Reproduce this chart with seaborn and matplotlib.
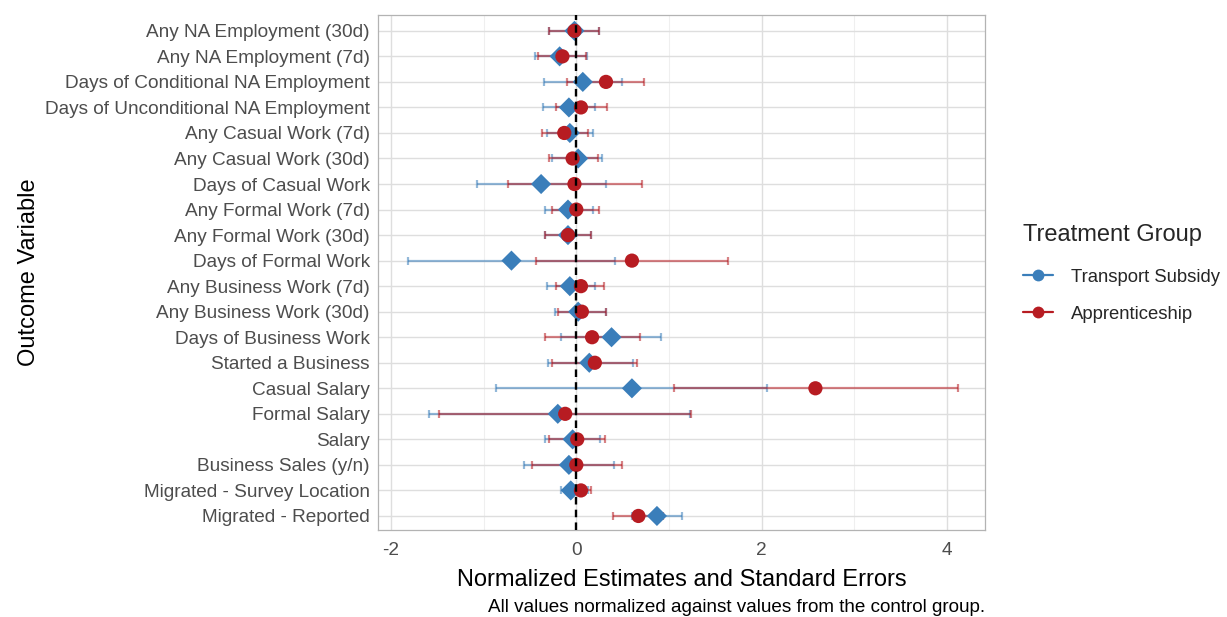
import matplotlib
matplotlib.use("Agg")
import matplotlib.pyplot as plt
from matplotlib.lines import Line2D
import seaborn as sns
import pandas as pd
import numpy as np

outcomes = [
    "Any NA Employment (30d)", "Any NA Employment (7d)",
    "Days of Conditional NA Employment", "Days of Unconditional NA Employment",
    "Any Casual Work (7d)", "Any Casual Work (30d)", "Days of Casual Work",
    "Any Formal Work (7d)", "Any Formal Work (30d)", "Days of Formal Work",
    "Any Business Work (7d)", "Any Business Work (30d)", "Days of Business Work",
    "Started a Business", "Casual Salary", "Formal Salary", "Salary",
    "Business Sales (y/n)", "Migrated - Survey Location", "Migrated - Reported",
]

transport_est = [-0.02, -0.18, 0.07, -0.08, -0.07, 0.02, -0.38, -0.09, -0.09, -0.70,
                 -0.07, 0.02, 0.38, 0.14, 0.60, -0.20, -0.04, -0.08, -0.06, 0.87]
transport_lo = [-0.29, -0.45, -0.35, -0.36, -0.32, -0.26, -1.07, -0.34, -0.34, -1.82,
                -0.32, -0.23, -0.17, -0.31, -0.87, -1.59, -0.34, -0.56, -0.17, 0.60]
transport_hi = [0.24, 0.12, 0.49, 0.20, 0.18, 0.28, 0.32, 0.18, 0.16, 0.42,
                0.20, 0.32, 0.91, 0.61, 2.06, 1.23, 0.26, 0.41, 0.13, 1.14]

appr_est = [-0.02, -0.15, 0.32, 0.05, -0.13, -0.04, -0.02, 0.00, -0.09, 0.60,
            0.05, 0.06, 0.17, 0.20, 2.58, -0.12, 0.01, 0.00, 0.05, 0.67]
appr_lo = [-0.29, -0.41, -0.10, -0.22, -0.37, -0.30, -0.74, -0.26, -0.34, -0.44,
           -0.22, -0.20, -0.34, -0.26, 1.05, -1.48, -0.29, -0.48, -0.07, 0.40]
appr_hi = [0.24, 0.10, 0.73, 0.33, 0.13, 0.23, 0.71, 0.25, 0.16, 1.64,
           0.30, 0.32, 0.69, 0.65, 4.12, 1.24, 0.31, 0.49, 0.16, 0.94]

groups = ["Transport Subsidy", "Apprenticeship"]
colors = {"Transport Subsidy": "#3A7EBA", "Apprenticeship": "#B71C22"}
markers = {"Transport Subsidy": "D", "Apprenticeship": "o"}
sizes = {"Transport Subsidy": 105, "Apprenticeship": 105}

df = pd.concat([
    pd.DataFrame({"outcome": outcomes, "est": transport_est, "lo": transport_lo,
                  "hi": transport_hi, "group": groups[0]}),
    pd.DataFrame({"outcome": outcomes, "est": appr_est, "lo": appr_lo,
                  "hi": appr_hi, "group": groups[1]}),
], ignore_index=True)

sns.set_theme(style="whitegrid")
plt.rcParams["font.family"] = ["Liberation Sans", "DejaVu Sans"]

fig = plt.figure(figsize=(12.27, 6.17), dpi=100)
ax = fig.add_axes([378 / 1227, 1 - 530 / 617, (985 - 378) / 1227, (530 - 15) / 617])
ax.set_facecolor("white")

# error bars (categorical y through matplotlib units)
for g in groups:
    sub = df[df["group"] == g]
    ax.errorbar(sub["est"], sub["outcome"],
                xerr=[sub["est"] - sub["lo"], sub["hi"] - sub["est"]],
                fmt="none", ecolor=colors[g], alpha=0.55, elinewidth=1.6,
                capsize=2.6, capthick=1.6, zorder=2)

for g in groups:
    sub = df[df["group"] == g]
    sns.scatterplot(data=sub, x="est", y="outcome", ax=ax, color=colors[g],
                    marker=markers[g], s=sizes[g],
                    edgecolor="none", linewidth=0, zorder=3 + groups.index(g),
                    legend=False)

ax.axvline(0, color="black", linestyle=(0, (3.2, 2.2)), linewidth=1.7, zorder=6)

ax.set_xlim(-2.14, 4.41)
ax.set_ylim(len(outcomes) - 0.45, -0.62)
ax.set_xticks([-2, 0, 2, 4])
ax.set_xticklabels(["-2", "0", "2", "4"])
ax.set_xticks([-1, 1, 3], minor=True)
ax.grid(which="major", color="#DEDEDE", linewidth=1.0)
ax.grid(which="minor", axis="x", color="#EFEFEF", linewidth=0.8)
ax.set_axisbelow(True)
for sp in ax.spines.values():
    sp.set_color("#B3B3B3")
    sp.set_linewidth(0.9)
ax.tick_params(axis="both", which="major", length=3.5, color="#B3B3B3", width=0.8,
               labelsize=13.7, labelcolor="#4D4D4D", pad=2.5)
ax.tick_params(axis="x", which="major", pad=5)
ax.tick_params(axis="x", which="minor", length=0)
ax.set_xlabel("Normalized Estimates and Standard Errors", fontsize=17, color="black", labelpad=7)
ax.set_ylabel("Outcome Variable", fontsize=17, color="black")
ax.yaxis.set_label_coords(-0.557, 0.5)

handles = [Line2D([0], [0], color=colors[g], marker="o", markersize=8.5, linewidth=1.6,
                  markeredgewidth=0) for g in groups]
leg = fig.legend(handles, groups, title="Treatment Group", loc="upper left",
                 bbox_to_anchor=(1016 / 1227, 1 - 217 / 617), frameon=False,
                 fontsize=13.3, title_fontsize=17, handlelength=1.6,
                 labelspacing=1.1, handletextpad=1.0, borderaxespad=0)
leg._legend_box.align = "left"
leg._legend_box.sep = 16

fig.text(985 / 1227, 1 - 607 / 617, "All values normalized against values from the control group.",
         ha="right", va="center", fontsize=13.6, color="black")

fig.savefig("out.png", dpi=100)
